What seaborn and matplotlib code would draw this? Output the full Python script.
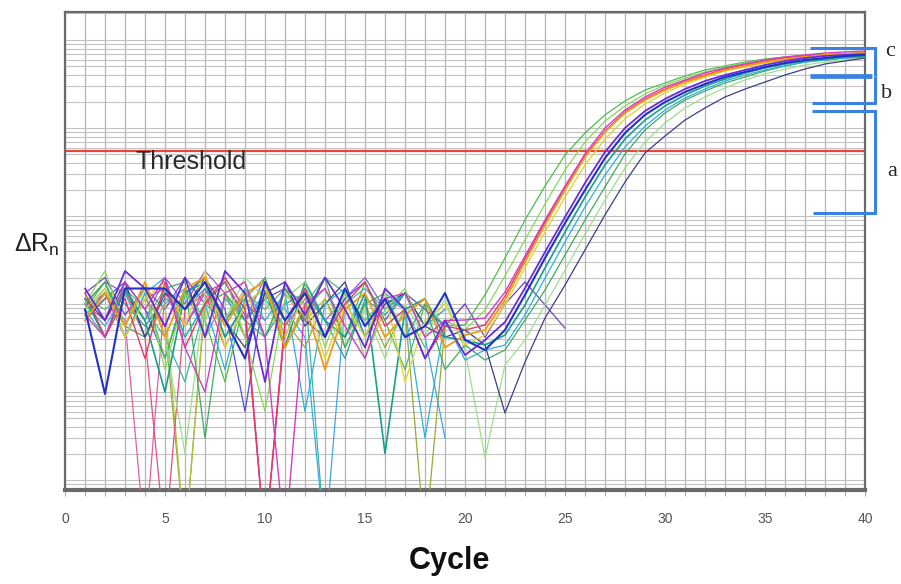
import numpy as np
import pandas as pd
import matplotlib
matplotlib.use("Agg")
import matplotlib.pyplot as plt
from matplotlib.lines import Line2D
from matplotlib.ticker import LogLocator, NullFormatter
import seaborn as sns

# ---------------- data (ΔRn) ----------------
cycles_base = list(range(1, 20))      # baseline (noise) cycles
cycles_amp = list(range(20, 41))      # amplification cycles
threshold = 0.55

green1_base = [0.0087, 0.0178, 0.0042, 0.0133, 0.0024, 0.0150, 0.0065, 0.0013, 0.0115, 0.0200, 0.0032, 0.0087, 0.0150, 0.0042, 0.0178, 0.0065, 0.0018, 0.0100, 0.0056]
green1_amp = [0.00577, 0.0127, 0.0333, 0.0901, 0.219, 0.493, 0.878, 1.41, 2.03, 2.70, 3.25, 3.90, 4.56, 5.07, 5.62, 6.08, 6.41, 6.67, 6.84, 7.03, 7.11]
lgreen1_base = [0.0100, 0.0237, 0.0056, 0.0150, 0.0018, 0.0133, 0.0065, 0.0200, 0.0042, 0.0006, 0.0115, 0.0178, 0.0032, 0.0133, 0.0024, 0.0087, 0.0150, 0.0042, 0.0065]
lgreen1_amp = [0.00507, 0.00855, 0.0208, 0.0534, 0.137, 0.333, 0.693, 1.20, 1.78, 2.43, 3.08, 3.70, 4.33, 4.93, 5.48, 5.93, 6.24, 6.58, 6.76, 6.93, 7.11]
magenta_base = [0.0075, 0.0042, 0.0178, 0.0087, 0.0200, 0.0032, 0.0010, 0.0133, 0.0178, 0.0042, 0.00002, 0.0100, 0.0150, 0.0056, 0.0024, 0.0115, 0.0133, 0.0042, 0.0065]
magenta_amp = [0.00658, 0.00693, 0.0137, 0.0351, 0.0901, 0.219, 0.507, 1.00, 1.60, 2.25, 2.92, 3.51, 4.22, 4.81, 5.34, 5.93, 6.41, 6.76, 7.11, 7.31, 7.50]
orange_base = [0.0065, 0.0133, 0.0056, 0.0178, 0.0042, 0.0150, 0.0200, 0.0056, 0.0133, 0.0178, 0.0032, 0.0100, 0.0018, 0.0087, 0.0133, 0.0042, 0.0075, 0.0115, 0.0032]
orange_amp = [0.00444, 0.00507, 0.0111, 0.0300, 0.0791, 0.197, 0.468, 0.901, 1.48, 2.08, 2.70, 3.33, 3.90, 4.56, 5.07, 5.62, 6.08, 6.41, 6.76, 6.93, 7.11]
red_base = [0.0133, 0.0042, 0.0115, 0.0024, 0.0178, 0.0032, 0.0100, 0.0200, 0.0087, 0.00002, 0.0065, 0.0150, 0.0042, 0.0100, 0.0178, 0.0056, 0.0087, 0.0024, 0.0056]
red_amp = [0.00507, 0.00577, 0.0123, 0.0325, 0.0855, 0.208, 0.481, 0.924, 1.52, 2.14, 2.77, 3.42, 4.00, 4.68, 5.20, 5.77, 6.24, 6.58, 6.76, 6.93, 7.11]
yellow_base = [0.0087, 0.0150, 0.0042, 0.0115, 0.0178, 0.0056, 0.0237, 0.0032, 0.0100, 0.0150, 0.0042, 0.0133, 0.0024, 0.0100, 0.0042, 0.0133, 0.0013, 0.0065, 0.0100]
yellow_amp = [0.00342, 0.00444, 0.00975, 0.0257, 0.0658, 0.164, 0.380, 0.750, 1.27, 1.87, 2.50, 3.16, 3.80, 4.44, 4.93, 5.48, 5.93, 6.24, 6.58, 6.76, 6.93]
purple_base = [0.0150, 0.0065, 0.0237, 0.0150, 0.0056, 0.0200, 0.0042, 0.0237, 0.0133, 0.0013, 0.0178, 0.0075, 0.0200, 0.0087, 0.0032, 0.0150, 0.0087, 0.0024, 0.0065]
purple_amp = [0.00263, 0.0039, 0.00624, 0.0152, 0.039, 0.0974, 0.237, 0.534, 1.00, 1.56, 2.14, 2.77, 3.42, 4.00, 4.56, 5.20, 5.77, 6.24, 6.58, 6.76, 6.93]
blue_base = [0.0087, 0.00095, 0.0150, 0.0150, 0.0150, 0.0087, 0.0178, 0.0065, 0.0024, 0.0178, 0.0065, 0.0133, 0.0042, 0.0150, 0.0056, 0.0115, 0.0042, 0.0056, 0.0133]
blue_amp = [0.0039, 0.0030, 0.00507, 0.0127, 0.0333, 0.0832, 0.197, 0.456, 0.878, 1.41, 1.97, 2.56, 3.16, 3.80, 4.33, 4.93, 5.48, 5.93, 6.24, 6.58, 6.76]
teal_base = [0.0115, 0.0042, 0.0150, 0.0065, 0.0010, 0.0133, 0.0178, 0.0042, 0.0100, 0.0150, 0.0032, 0.0178, 0.0065, 0.0042, 0.0133, 0.0002, 0.0087, 0.0115, 0.0042]
teal_amp = [0.0039, 0.00342, 0.00444, 0.00975, 0.0257, 0.0658, 0.164, 0.380, 0.750, 1.23, 1.78, 2.37, 3.00, 3.60, 4.22, 4.81, 5.34, 5.77, 6.08, 6.41, 6.58]
cyan_base = [0.0087, 0.0150, 0.0042, 0.0133, 0.0200, 0.0042, 0.0100, 0.0018, 0.0150, 0.0065, 0.0133, 0.0006, 0.0100, 0.0150, 0.0042, 0.0133, 0.0087, 0.0003, 0.0065]
cyan_amp = [0.00231, 0.0030, 0.00342, 0.0075, 0.0197, 0.0507, 0.127, 0.292, 0.608, 1.05, 1.60, 2.19, 2.77, 3.42, 4.00, 4.56, 5.07, 5.62, 5.93, 6.24, 6.41]
green2_base = [0.0100, 0.0178, 0.0056, 0.0042, 0.0150, 0.0178, 0.0003, 0.0133, 0.0065, 0.0042, 0.0150, 0.0065, 0.0200, 0.0032, 0.0100, 0.0133, 0.0042, 0.0100, 0.0018]
green2_amp = [0.00342, 0.00231, 0.0030, 0.00658, 0.0144, 0.036, 0.0901, 0.214, 0.507, 0.949, 1.48, 2.08, 2.63, 3.25, 3.80, 4.44, 5.07, 5.62, 5.93, 6.24, 6.41]
lgreen2_base = [0.0075, 0.0150, 0.0056, 0.0178, 0.0042, 0.0002, 0.0133, 0.0065, 0.0200, 0.0115, 0.0032, 0.0100, 0.0150, 0.0042, 0.0087, 0.0024, 0.0100, 0.0042, 0.0115]
lgreen2_amp = [0.0030, 0.00018, 0.00203, 0.0039, 0.00975, 0.0243, 0.0624, 0.152, 0.351, 0.693, 1.14, 1.69, 2.25, 2.85, 3.51, 4.11, 4.68, 5.20, 5.62, 5.93, 6.24]
navy_base = [0.0115, 0.0065, 0.0178, 0.0042, 0.0133, 0.0087, 0.0200, 0.0065, 0.0032, 0.0133, 0.0178, 0.0056, 0.0100, 0.0178, 0.0042, 0.0100, 0.0133, 0.0056, 0.0042]
navy_amp = [0.00507, 0.00342, 0.000577, 0.00219, 0.00693, 0.0164, 0.0411, 0.103, 0.243, 0.520, 0.811, 1.23, 1.69, 2.25, 2.77, 3.33, 4.00, 4.68, 5.34, 5.77, 6.24]

# non-amplifying wells (noise only, each starts at cycle 1)
ntc1 = [0.0100, 0.0178, 0.0133, 0.0065, 0.0200, 0.0100, 0.0237, 0.0133, 0.0065, 0.0200, 0.0042, 0.0150, 0.0065, 0.0115, 0.0200, 0.0087, 0.0133]
ntc2 = [0.0087, 0.0042, 0.0150, 0.0087, 0.0042, 0.0013, 0.0100, 0.0133, 0.0042, 0.0115, 0.0056, 0.0150, 0.00002]
ntc3 = [0.0065, 0.0133, 0.0065, 0.00002, 0.0133, 0.0056, 0.0150, 0.0042, 0.0100, 0.00002, 0.0056, 0.0115]
ntc4 = [0.0087, 0.0133, 0.0042, 0.0115, 0.0056, 0.00002, 0.0100, 0.0133, 0.0042, 0.0133, 0.0065, 0.0032, 0.0115, 0.0042, 0.0100, 0.0032, 0.0087, 0.00002, 0.0056, 0.0100]
ntc5 = [0.0133, 0.0200, 0.0075, 0.0150, 0.0087, 0.0200, 0.0100, 0.0178, 0.0065, 0.0115, 0.0150, 0.0065, 0.0042, 0.0115, 0.0178, 0.0065, 0.0133, 0.0087, 0.0056, 0.0100, 0.0042, 0.0100, 0.0178, 0.0098, 0.0053]
ntc6 = [0.0100, 0.0056, 0.0133, 0.0042, 0.0100, 0.0150, 0.0042, 0.0115, 0.0065, 0.0133, 0.0087, 0.0042, 0.00002, 0.0100, 0.0150, 0.0087, 0.0133, 0.0042, 0.0003]
ntc7 = [0.0075, 0.0115, 0.0150, 0.0042, 0.0100, 0.00002, 0.0115, 0.0065, 0.0150, 0.0042, 0.0133, 0.0065, 0.0115, 0.0032, 0.0087]
ntc8 = [0.0087, 0.0133, 0.0042, 0.0115, 0.0150, 0.0056, 0.0133, 0.0178, 0.0075, 0.00002, 0.0056]
ntc9 = [0.0065, 0.0115, 0.0178, 0.0087, 0.0024, 0.0133, 0.0200, 0.0087, 0.0006, 0.0150, 0.0042]
ntc10 = [0.0115, 0.0087, 0.0133, 0.0065, 0.0150, 0.0042, 0.0100, 0.0065, 0.0133, 0.0087, 0.0150, 0.0100, 0.0200, 0.0133, 0.0065, 0.0115, 0.0087, 0.0032]
ntc11 = [0.0100, 0.0065, 0.0150, 0.0042, 0.00002, 0.0087, 0.0133, 0.0032, 0.0100, 0.0065]
ntc12 = [0.0075, 0.0133, 0.0100, 0.0056, 0.0115, 0.0087, 0.0150, 0.0065, 0.0115, 0.0042, 0.0100, 0.0133, 0.0065, 0.0024, 0.0115, 0.0075, 0.0133, 0.0056, 0.0087]

amp_wells = [
    ("green1", green1_base, green1_amp, "#4cbf4c", 0.9),
    ("lgreen2", lgreen2_base, lgreen2_amp, "#9ddf8f", 0.9),
    ("green2", green2_base, green2_amp, "#3faa5c", 0.9),
    ("navy", navy_base, navy_amp, "#3b3f86", 0.9),
    ("cyan", cyan_base, cyan_amp, "#2bb0dc", 0.9),
    ("teal", teal_base, teal_amp, "#16a08a", 1.2),
    ("lgreen1", lgreen1_base, lgreen1_amp, "#86d957", 0.9),
    ("yellow", yellow_base, yellow_amp, "#e3d436", 1.0),
    ("red", red_base, red_amp, "#e63a5f", 1.0),
    ("orange", orange_base, orange_amp, "#f29a16", 1.3),
    ("magenta", magenta_base, magenta_amp, "#d43cc6", 1.0),
    ("purple", purple_base, purple_amp, "#6a2bd9", 1.3),
    ("blue", blue_base, blue_amp, "#2232c8", 1.5),
]
ntc_wells = [
    ("ntc1", ntc1, "#8a5cd6"), ("ntc2", ntc2, "#3cb8a0"), ("ntc3", ntc3, "#e060a8"),
    ("ntc4", ntc4, "#9aa83a"), ("ntc5", ntc5, "#7044c4"), ("ntc6", ntc6, "#40a8e0"),
    ("ntc7", ntc7, "#b8c040"), ("ntc8", ntc8, "#c040c0"), ("ntc9", ntc9, "#5050d8"),
    ("ntc10", ntc10, "#50b870"), ("ntc11", ntc11, "#e05080"), ("ntc12", ntc12, "#2aa0a8"),
]

# ---------------- figure ----------------
sns.set_theme(style="white")
plt.rcParams["font.family"] = ["Liberation Sans", "DejaVu Sans"]

W, H = 901, 584
fig = plt.figure(figsize=(W / 100, H / 100), dpi=100)
ax = fig.add_axes([65 / W, (H - 490) / H, 800 / W, 478 / H])
ax.set_yscale("log")

for name, vals, col in ntc_wells:
    d = pd.DataFrame({"cycle": list(range(1, len(vals) + 1)), "drn": vals})
    sns.lineplot(data=d, x="cycle", y="drn", color=col, lw=0.9, ax=ax,
                 estimator=None, sort=False, legend=False, zorder=3)
for name, base, amp, col, lw in amp_wells:
    d = pd.DataFrame({"cycle": cycles_base + cycles_amp, "drn": base + amp})
    sns.lineplot(data=d, x="cycle", y="drn", color=col, lw=lw, ax=ax,
                 estimator=None, sort=False, legend=False, zorder=4)

ax.axhline(threshold, color="#e8463c", lw=1.6, zorder=2.5)
ax.text(3.5, 0.41, "Threshold", fontsize=18, color="#2a2a2a", ha="left", va="center", zorder=5)

ax.set_xlim(0, 40)
ax.set_ylim(7.7e-5, 20.8)
ax.set_xticks(range(0, 41, 5))
ax.set_xticks(range(0, 41), minor=True)
ax.yaxis.set_major_locator(LogLocator(base=10, numticks=20))
ax.yaxis.set_minor_locator(LogLocator(base=10, subs=np.arange(2, 10), numticks=200))
ax.yaxis.set_minor_formatter(NullFormatter())
ax.grid(True, which="both", axis="x", color="#b4b4b4", lw=0.9, zorder=1)
ax.grid(True, which="both", axis="y", color="#c2c2c2", lw=0.8, zorder=1)
ax.set_axisbelow(True)
ax.tick_params(axis="y", which="both", left=False, labelleft=False)
ax.tick_params(axis="x", which="both", bottom=True, direction="out", color="#aaaaaa",
               length=4, width=0.8, labelsize=10, labelcolor="#555555", pad=12)
ax.set_xlabel("")
ax.set_ylabel("")
for s in ax.spines.values():
    s.set_color("#6a6a6a")
    s.set_linewidth(1.6)
    s.set_visible(True)
ax.spines["bottom"].set_linewidth(3)

fig.text(37 / W, 1 - 245 / H, r"$\mathregular{\Delta R_n}$", fontsize=18,
         ha="center", va="center", color="#222222")
fig.text(449 / W, 1 - 561 / H, "Cycle", fontsize=22, fontweight="bold",
         ha="center", va="center", color="#111111")

# bracket annotations on the right
def P(x, y):
    return x / W, 1 - y / H

blue = "#3a82e2"
def seg(pts, lw=2.2):
    xs, ys = zip(*[P(x, y) for x, y in pts])
    fig.add_artist(Line2D(xs, ys, transform=fig.transFigure, color=blue, lw=lw,
                          solid_joinstyle="miter", solid_capstyle="butt"))

seg([(810, 48), (875, 48), (875, 76)])
seg([(810, 76), (872, 76)], lw=3.4)
seg([(875, 76), (875, 103), (812, 103)])
seg([(812, 111), (875, 111), (875, 213), (813, 213)])
fig.text(890 / W, 1 - 52 / H, "c", fontsize=16, family="Liberation Serif", ha="center", va="center")
fig.text(887 / W, 1 - 93 / H, "b", fontsize=16, family="Liberation Serif", ha="center", va="center")
fig.text(892 / W, 1 - 171 / H, "a", fontsize=16, family="Liberation Serif", ha="center", va="center")

fig.savefig("out.png", dpi=100)
